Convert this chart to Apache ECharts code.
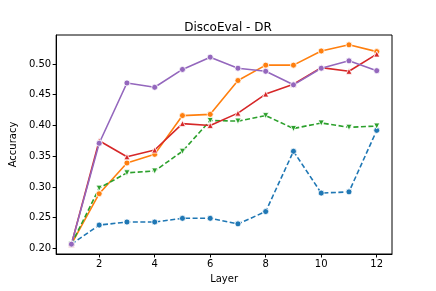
<!DOCTYPE html>
<html><head><meta charset="utf-8">
<script src="https://cdn.jsdelivr.net/npm/echarts@6/dist/echarts.min.js"></script>
<style>html,body{margin:0;padding:0;background:#fff}#c{width:436px;height:291px}</style>
</head><body><div id="c"></div>
<script>
const layers = [1,2,3,4,5,6,7,8,9,10,11,12];
const xTicks = [2,4,6,8,10,12];
const yTicks = [0.20,0.25,0.30,0.35,0.40,0.45,0.50];
const blueVals   = [0.207,0.238,0.243,0.243,0.249,0.249,0.240,0.260,0.358,0.290,0.292,0.392];
const orangeVals = [0.207,0.289,0.339,0.353,0.416,0.418,0.473,0.498,0.498,0.521,0.531,0.520];
const greenVals  = [0.207,0.298,0.323,0.326,0.358,0.408,0.407,0.416,0.395,0.404,0.397,0.399];
const redVals    = [0.207,0.375,0.349,0.360,0.403,0.400,0.420,0.451,0.467,0.494,0.488,0.516];
const purpleVals = [0.207,0.371,0.469,0.462,0.491,0.511,0.493,0.488,0.466,0.493,0.505,0.489];

const pairs = v => layers.map((l,i)=>[l,v[i]]);
function mk(name, vals, color, symbol, dashed, rot){
  return {name, type:'line', data:pairs(vals), symbol, symbolSize:6, symbolRotate:rot||0,
    lineStyle:{color, width:1.6, type: dashed?[5,2.5]:'solid'},
    itemStyle:{color, borderColor:'#fff', borderWidth:0.8},
    emphasis:{disabled:true}, animation:false, z:2};
}
const font = 'DejaVu Sans';
const chart = echarts.init(document.getElementById('c'));
chart.setOption({
  animation:false,
  title:{text:'DiscoEval - DR', left:223, top:17, textAlign:'center',
    textStyle:{fontFamily:font, fontSize:12, fontWeight:'normal', color:'#000'}},
  grid:{left:55, right:44, top:35, bottom:37, show:true, borderColor:'#000', borderWidth:1, backgroundColor:'#fff'},
  xAxis:{type:'value', min:0.45, max:12.55, name:'Layer', nameLocation:'middle', nameGap:20,
    nameTextStyle:{fontFamily:font, fontSize:10, color:'#000'},
    axisLine:{show:true, lineStyle:{color:'#000', width:1}},
    axisTick:{show:true, length:3.5, lineStyle:{color:'#000'}, customValues:xTicks},
    axisLabel:{fontFamily:font, fontSize:10, color:'#000', margin:5, customValues:xTicks},
    splitLine:{show:false}},
  yAxis:{type:'value', min:0.191, max:0.547, name:'Accuracy', nameLocation:'middle', nameGap:31,
    nameTextStyle:{fontFamily:font, fontSize:10, color:'#000'},
    axisLine:{show:true, lineStyle:{color:'#000', width:1}},
    axisTick:{show:true, length:3.5, lineStyle:{color:'#000'}, customValues:yTicks},
    axisLabel:{fontFamily:font, fontSize:10, color:'#000', margin:5, customValues:yTicks,
      formatter:v=>v.toFixed(2)},
    splitLine:{show:false}},
  series:[
    mk('blue', blueVals, '#1f77b4', 'circle', true),
    mk('orange', orangeVals, '#ff7f0e', 'circle', false),
    mk('green', greenVals, '#2ca02c', 'triangle', true, 180),
    mk('red', redVals, '#d62728', 'triangle', false),
    mk('purple', purpleVals, '#9467bd', 'circle', false)
  ]
});
</script></body></html>
